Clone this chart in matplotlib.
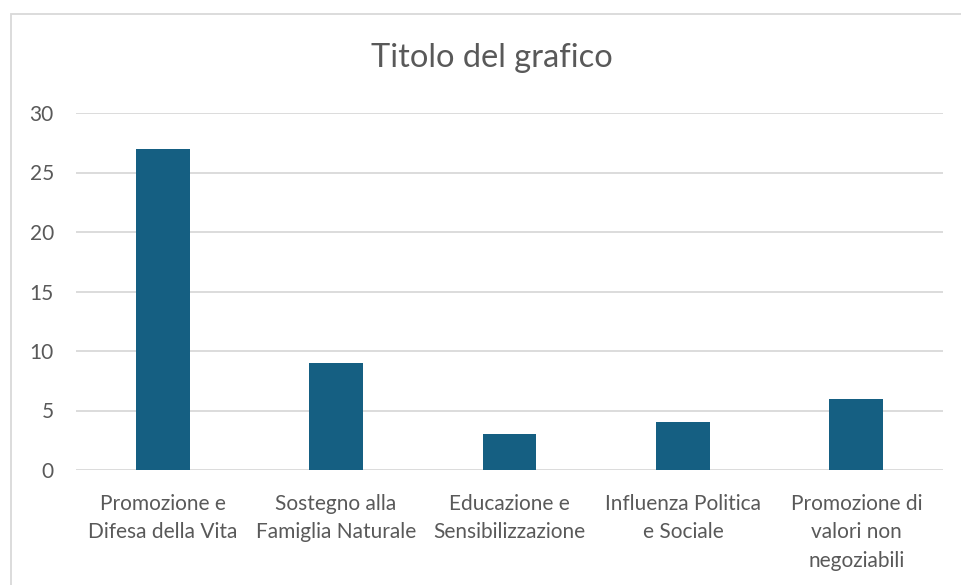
import matplotlib
matplotlib.use("Agg")
import matplotlib.pyplot as plt
from matplotlib.patches import Rectangle

categories = ["Promozione e\nDifesa della Vita", "Sostegno alla\nFamiglia Naturale",
              "Educazione e\nSensibilizzazione", "Influenza Politica\ne Sociale",
              "Promozione di\nvalori non\nnegoziabili"]
values = [27, 9, 3, 4, 6]
yticks = [0, 5, 10, 15, 20, 25, 30]
title = "Titolo del grafico"

plt.rcParams['font.family'] = ['Lato', 'DejaVu Sans']

W, H = 962, 585
fig = plt.figure(figsize=(W / 100, H / 100), dpi=100)
ax = fig.add_axes([76 / W, 1 - 470 / H, (943 - 76) / W, (470 - 113) / H])

x = list(range(len(categories)))
ax.bar(x, values, width=0.31, color="#155F82", zorder=3)
ax.set_xlim(-0.5, len(categories) - 0.5)
ax.set_ylim(0, 30)
ax.set_yticks(yticks)
ax.set_xticks(x)
ax.set_xticklabels(categories, fontsize=15, color="#595959", linespacing=1.55)
ax.tick_params(axis='y', labelsize=15, labelcolor="#595959", length=0, pad=16)
ax.tick_params(axis='x', length=0, pad=17)
ax.grid(axis='y', color="#D9D9D9", linewidth=1.3, zorder=0)
for s in ax.spines.values():
    s.set_visible(False)

fig.text(492 / W, 1 - 58 / H, title, ha='center', va='center', fontsize=23.5, color="#595959")
fig.patches.append(Rectangle((11 / W, -0.05), 1.1, 1 - 14 / H + 0.05, transform=fig.transFigure,
                             fill=False, edgecolor="#D9D9D9", linewidth=1.3))

fig.savefig("out.png", dpi=100)
